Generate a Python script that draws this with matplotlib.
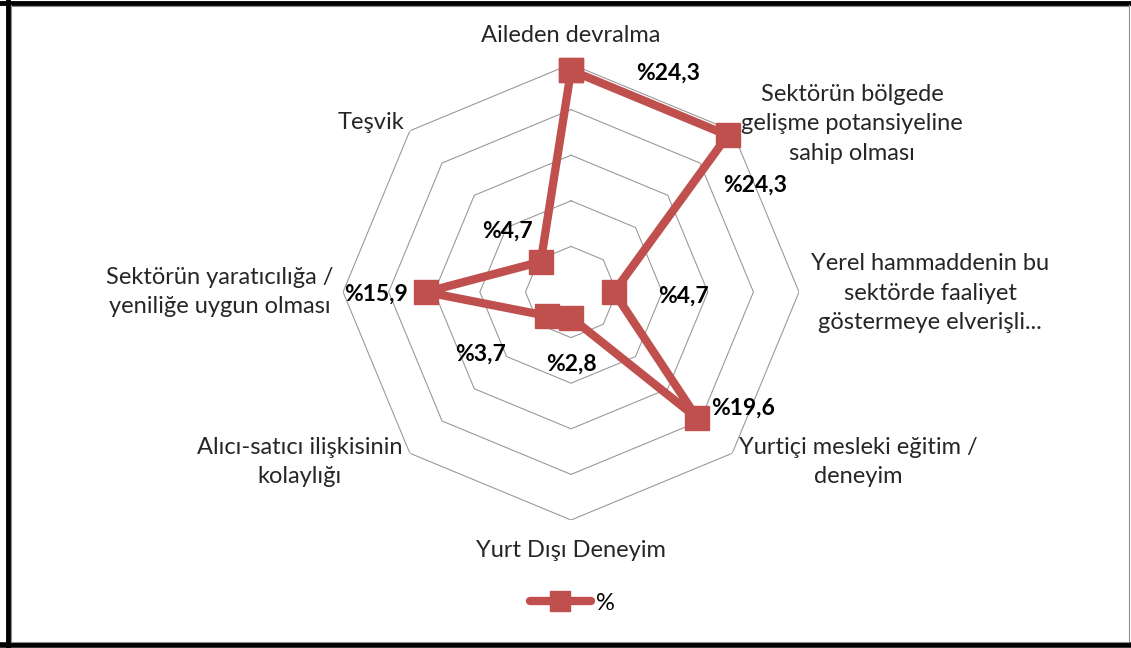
import numpy as np
import matplotlib
matplotlib.use('Agg')
import matplotlib.pyplot as plt
from matplotlib.lines import Line2D

plt.rcParams['font.family'] = ['Lato', 'DejaVu Sans']

categories = [
    'Aileden devralma',
    'Sektörün bölgede\ngelişme potansiyeline\nsahip olması',
    'Yerel hammaddenin bu\nsektörde faaliyet\ngöstermeye elverişli...',
    'Yurtiçi mesleki eğitim /\ndeneyim',
    'Yurt Dışı Deneyim',
    'Alıcı-satıcı ilişkisinin\nkolaylığı',
    'Sektörün yaratıcılığa /\nyeniliğe uygun olması',
    'Teşvik',
]
values = [24.3, 24.3, 4.7, 19.6, 2.8, 3.7, 15.9, 4.7]
value_labels = ['%24,3', '%24,3', '%4,7', '%19,6', '%2,8', '%3,7', '%15,9', '%4,7']
rings = [5, 10, 15, 20, 25]

# label offsets in pixels (dpi=100)
cat_offsets = [(0, 29), (120, 7), (131, -1), (126, -9), (0, -30), (-110, -9), (-123, 0), (-39, 8)]
val_offsets = [(97, -3), (27, -50), (70, -4), (46, 10), (0, -47), (-67, -38), (-50, -2), (-33, 31)]

RED = '#C0504D'

fig = plt.figure(figsize=(11.31, 6.48), dpi=100)
ax = fig.add_axes([0.3033, 0.1975, 0.4032, 0.7037], projection='polar')
ax.set_theta_offset(np.pi / 2)
ax.set_theta_direction(-1)
ax.set_ylim(0, 25)
ax.grid(False)
ax.spines['polar'].set_visible(False)
ax.set_xticks([])
ax.set_yticks([])
ax.patch.set_alpha(0)

n = len(categories)
theta = np.linspace(0, 2 * np.pi, n, endpoint=False)
theta_c = np.append(theta, theta[0])

for r in rings:
    ax.plot(theta_c, [r] * (n + 1), color='#9A9A9A', lw=0.8, zorder=1)

vals_c = values + values[:1]
ax.plot(theta_c, vals_c, color=RED, lw=6, marker='s', markersize=17.5,
        solid_joinstyle='round', zorder=3, clip_on=False)

for i, lab in enumerate(categories):
    ax.annotate(lab, xy=(theta[i], 25), xytext=cat_offsets[i], textcoords='offset pixels',
                ha='center', va='center', multialignment='center', fontsize=17,
                color='#262626', linespacing=1.5, annotation_clip=False)

for i, lab in enumerate(value_labels):
    ax.annotate(lab, xy=(theta[i], values[i]), xytext=val_offsets[i], textcoords='offset pixels',
                ha='center', va='center', fontsize=16.5, fontweight='bold',
                color='#000000', annotation_clip=False, zorder=4)

# legend
handle = Line2D([], [], color=RED, lw=6, marker='s', markersize=15, solid_capstyle='round')
fig.legend([handle], ['%'], loc='center', bbox_to_anchor=(572 / 1131, 1 - 603 / 648),
           frameon=False, fontsize=17, handlelength=2.6, handletextpad=0.2)

# outer frame
W, H = 1131, 648
def fx(x): return x / W
def fy(y): return 1 - y / H
fig.add_artist(Line2D([fx(8), fx(8)], [fy(0), fy(648)], color='black', lw=3.5))
fig.add_artist(Line2D([fx(0), fx(1131)], [fy(2.5), fy(2.5)], color='black', lw=3.5))
fig.add_artist(Line2D([fx(0), fx(1131)], [fy(645), fy(645)], color='black', lw=4))
fig.add_artist(Line2D([fx(11), fx(11)], [fy(5), fy(642)], color='#8C8C8C', lw=0.8))
fig.add_artist(Line2D([fx(11), fx(1128)], [fy(5.5), fy(5.5)], color='#8C8C8C', lw=0.8))
fig.add_artist(Line2D([fx(11), fx(1128)], [fy(641.5), fy(641.5)], color='#8C8C8C', lw=0.8))
fig.add_artist(Line2D([fx(1128.5), fx(1128.5)], [fy(5), fy(642)], color='#8C8C8C', lw=0.8))

fig.savefig('out.png', dpi=100)
